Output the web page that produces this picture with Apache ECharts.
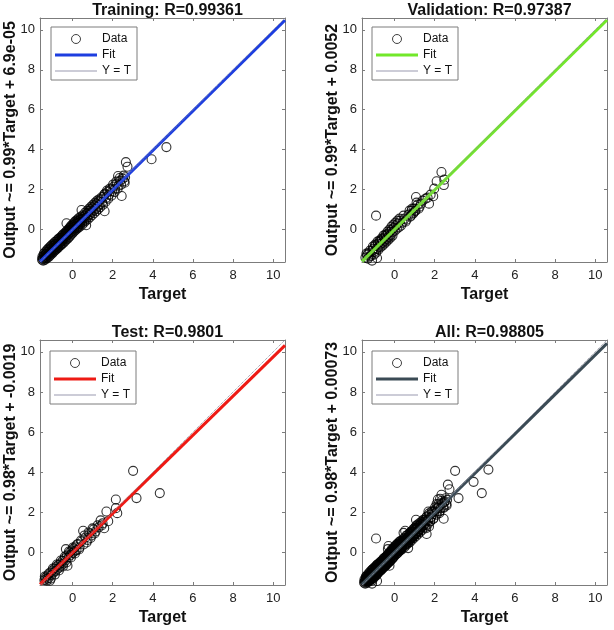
<!DOCTYPE html>
<html>
<head>
<meta charset="utf-8">
<script src="https://cdn.jsdelivr.net/npm/echarts@6/dist/echarts.min.js"></script>
<style>html,body{margin:0;padding:0;background:#fff}#c{width:614px;height:630px}</style>
</head>
<body>
<div id="c"></div>
<script>
// ---- data ----
const panelTitles = ['Training: R=0.99361', 'Validation: R=0.97387', 'Test: R=0.9801', 'All: R=0.98805'];
const yAxisNames = ['Output ~= 0.99*Target + 6.9e-05', 'Output ~= 0.99*Target + 0.0052', 'Output ~= 0.98*Target + -0.0019', 'Output ~= 0.98*Target + 0.00073'];
const xAxisName = 'Target';
const tickValues = [0, 2, 4, 6, 8, 10];
const axisMin = -1.62;
const axisMax = 10.59;

// [target, output]
const trainData = [[-1.52,-1.50],[-1.48,-1.41],[-1.45,-1.47],[-1.42,-1.30],[-1.40,-1.38],[-1.37,-1.44],[-1.35,-1.25],[-1.33,-1.36],[-1.30,-1.20],[-1.28,-1.31],[-1.25,-1.12],[-1.22,-1.27],[-1.20,-1.05],[-1.18,-1.18],[-1.15,-1.22],[-1.12,-0.98],[-1.10,-1.10],[-1.07,-1.15],[-1.05,-0.92],[-1.02,-1.03],[-1.00,-0.85],[-0.97,-1.05],[-0.95,-0.95],[-0.92,-0.80],[-0.90,-0.90],[-0.87,-0.98],[-0.85,-0.72],[-0.82,-0.85],[-0.80,-0.70],[-0.77,-0.80],[-0.75,-0.88],[-0.72,-0.62],[-0.70,-0.73],[-0.67,-0.55],[-0.65,-0.68],[-0.62,-0.75],[-0.60,-0.52],[-0.57,-0.60],[-0.55,-0.42],[-0.52,-0.56],[-0.50,-0.48],[-0.47,-0.35],[-0.45,-0.52],[-0.42,-0.40],[-0.40,-0.30],[-0.37,-0.44],[-0.35,-0.22],[-0.32,-0.33],[-0.30,0.32],[-0.28,-0.15],[-0.25,-0.30],[-0.22,-0.10],[-0.20,-0.22],[-0.17,-0.02],[-0.15,-0.18],[-0.12,-0.05],[-0.10,0.08],[-0.07,-0.12],[-0.05,0.02],[-0.02,0.15],[0.00,-0.05],[0.03,0.10],[0.05,0.22],[0.08,0.02],[0.10,0.15],[0.13,0.28],[0.15,0.08],[0.18,0.20],[0.20,0.35],[0.23,0.12],[0.25,0.30],[0.28,0.42],[0.30,0.20],[0.33,0.35],[0.35,0.48],[0.38,0.28],[0.40,0.40],[0.45,0.98],[0.43,0.55],[0.47,0.36],[0.50,0.50],[0.55,0.62],[0.58,0.45],[0.62,0.70],[0.65,0.58],[0.68,0.22],[0.70,0.80],[0.72,0.60],[0.78,0.85],[0.80,0.72],[0.85,0.95],[0.88,0.78],[0.92,1.02],[0.95,0.88],[1.00,1.10],[1.05,0.95],[1.10,1.20],[1.15,1.05],[1.20,1.30],[1.25,1.15],[1.30,1.40],[1.35,1.25],[1.42,1.52],[1.48,1.38],[1.55,1.65],[1.60,0.92],[1.62,1.80],[1.68,1.60],[1.75,1.88],[1.82,1.75],[1.90,2.00],[1.98,1.92],[2.05,2.15],[2.12,2.05],[2.20,2.30],[2.27,2.68],[2.30,2.20],[2.38,2.45],[2.45,1.68],[2.50,2.55],[2.58,2.42],[2.62,2.62],[2.66,3.38],[2.74,3.15],[3.94,3.52],[4.68,4.13],[10.55,10.60],
  [-1.50,-1.35],[-1.46,-1.55],[-1.43,-1.20],[-1.38,-1.52],[-1.34,-1.10],[-1.31,-1.45],[-1.27,-1.02],[-1.24,-1.40],[-1.21,-0.95],[-1.17,-1.35],[-1.14,-0.88],[-1.11,-1.28],[-1.08,-0.82],[-1.04,-1.22],[-1.01,-0.75],[-0.98,-1.15],[-0.94,-0.70],[-0.91,-1.08],[-0.88,-0.62],[-0.84,-1.02],[-0.81,-0.58],[-0.78,-0.95],[-0.74,-0.50],[-0.71,-0.90],[-0.68,-0.45],[-0.64,-0.82],[-0.61,-0.40],[-0.58,-0.78],[-0.54,-0.32],[-0.51,-0.70],[-0.48,-0.25],[-0.44,-0.65],[-0.41,-0.20],[-0.38,-0.58],[-0.34,-0.12],[-0.31,-0.50],[-0.27,-0.05],[-0.24,-0.45],[-0.21,0.02],[-0.18,-0.38],[-0.14,0.10],[-0.11,-0.30],[-0.08,0.18],[-0.04,-0.22],[-0.01,0.25],[0.02,-0.15],[0.06,0.32],[0.09,-0.08],[0.12,0.40],[0.16,-0.02],[0.19,0.45],[0.22,0.05],[0.26,0.52],[0.29,0.10],[0.32,0.58],[0.36,0.15],[0.42,0.65],[0.48,0.25],[0.52,0.72],[0.57,0.35],[0.63,0.85],[0.67,0.45],[0.74,0.95],[0.77,0.52],[0.83,1.05],[0.87,0.62],[0.93,1.15],[0.97,0.72],[1.03,1.25],[1.08,0.82],[1.13,1.35],[1.18,0.92],[1.23,1.45],[1.28,1.02],[1.33,1.52],[1.38,1.12],[1.45,1.62],[1.52,1.25],[1.58,1.75],[1.65,1.40],[1.72,1.95],[1.78,1.55],[1.86,2.05],[1.94,1.70],[2.02,2.25],[2.10,1.88],[2.18,2.40],[2.25,2.05],[2.35,2.58],[2.42,2.25],[2.55,2.70],[2.60,2.35]];
const valData = [[-1.45,-1.40],[-1.35,-1.25],[-1.30,-1.17],[-1.25,-1.35],[-1.12,-1.55],[-1.10,-1.05],[-1.05,-0.95],[-1.00,-1.10],[-0.92,0.70],[-0.95,-0.80],[-0.87,-1.42],[-0.88,-0.95],[-0.82,-0.70],[-0.78,-0.85],[-0.72,-0.60],[-0.68,-0.72],[-0.62,-0.50],[-0.58,-0.65],[-0.52,-0.40],[-0.48,-0.55],[-0.42,-0.30],[-0.38,-0.45],[-0.32,-0.20],[-0.28,-0.35],[-0.22,-0.10],[-0.18,-0.25],[-0.12,0.02],[-0.08,-0.12],[-0.02,0.10],[0.02,-0.05],[0.08,0.22],[0.12,0.05],[0.18,0.30],[0.22,0.12],[0.28,0.45],[0.32,0.20],[0.40,0.35],[0.50,0.55],[0.60,0.50],[0.70,0.75],[0.78,0.65],[0.85,0.95],[0.92,0.80],[0.98,1.05],[1.02,0.93],[1.07,1.63],[1.05,0.95],[1.15,1.25],[1.25,1.15],[1.40,1.45],[1.55,1.55],[1.65,1.60],[1.72,1.30],[1.80,1.75],[1.93,1.67],[1.98,2.05],[2.10,2.42],[2.34,2.88],[2.46,2.23],[2.48,2.50],
  [-1.40,-1.20],[-1.32,-1.45],[-1.22,-1.05],[-1.18,-1.30],[-1.08,-0.85],[-1.02,-1.25],[-0.97,-0.75],[-0.92,-1.15],[-0.85,-0.60],[-0.80,-1.00],[-0.75,-0.55],[-0.70,-0.88],[-0.65,-0.45],[-0.60,-0.80],[-0.55,-0.30],[-0.50,-0.70],[-0.45,-0.25],[-0.40,-0.60],[-0.35,-0.10],[-0.30,-0.50],[-0.25,0.00],[-0.20,-0.40],[-0.15,0.15],[-0.10,-0.30],[-0.05,0.25],[0.05,0.35],[0.15,0.45],[0.25,0.55],[0.45,0.70],[0.55,0.40],[0.75,0.95],[0.82,0.70],[0.88,1.05],[0.95,0.85],[1.10,1.35],[1.20,1.05],[1.32,1.30]];
const testData = [[-1.40,-1.38],[-1.35,-1.25],[-1.30,-1.32],[-1.25,-1.15],[-1.20,-1.28],[-1.13,-1.41],[-1.10,-1.00],[-1.05,-1.12],[-1.00,-0.90],[-0.95,-1.00],[-0.90,-0.80],[-0.85,-0.92],[-0.80,-0.70],[-0.75,-0.82],[-0.70,-0.62],[-0.65,-0.75],[-0.60,-0.55],[-0.55,-0.65],[-0.50,-0.42],[-0.45,-0.55],[-0.40,-0.30],[-0.33,0.17],[-0.35,-0.40],[-0.25,-0.66],[-0.28,-0.15],[-0.20,-0.25],[-0.15,0.00],[-0.10,-0.12],[-0.05,0.10],[0.00,-0.02],[0.05,0.20],[0.10,0.05],[0.15,0.30],[0.20,0.12],[0.28,0.42],[0.35,0.25],[0.45,0.55],[0.53,1.08],[0.55,0.40],[0.65,0.75],[0.75,0.62],[0.85,0.95],[0.95,0.85],[1.05,1.15],[1.15,1.05],[1.25,1.35],[1.40,1.60],[1.50,1.45],[1.58,1.21],[1.69,2.04],[1.78,1.56],[2.16,2.21],[2.16,2.64],[2.23,1.96],[3.02,4.07],[3.19,2.71],[4.35,2.96],
  [-1.38,-1.20],[-1.28,-1.40],[-1.18,-1.05],[-1.08,-1.30],[-0.98,-0.80],[-0.88,-1.10],[-0.78,-0.60],[-0.68,-0.90],[-0.58,-0.40],[-0.48,-0.70],[-0.38,-0.20],[-0.30,-0.50],[-0.18,0.05],[-0.08,-0.25],[0.02,0.25],[0.12,-0.05],[0.22,0.40],[0.32,0.15],[0.42,0.60],[0.60,0.85],[0.70,0.50],[0.80,1.00],[0.90,0.72],[1.00,1.20],[1.10,0.95],[1.30,1.25],[1.45,1.35]];
const allData = trainData.concat(valData, testData);

// fit line end points
const fitTrain = [[-1.62,-1.60],[10.59,10.48]];
const fitVal   = [[-1.62,-1.60],[10.59,10.49]];
const fitTest  = [[-1.62,-1.59],[10.59,10.32]];
const fitAll   = [[-1.62,-1.59],[10.59,10.42]];
const identityLine = [[-1.62,-1.62],[10.59,10.59]];

const legendNames = ['Data', 'Fit', 'Y = T'];

// ---- styling / layout ----
const FONT = '"Liberation Sans", Arial, Helvetica, sans-serif';
const fitColors = ['#1d3ee0', '#72e82a', '#ee1a14', '#3b4b55'];
const panelData = [trainData, valData, testData, allData];
const panelFits = [fitTrain, fitVal, fitTest, fitAll];
const grids = [
  {left: 40, top: 18, width: 245, height: 244},
  {left: 362, top: 18, width: 245, height: 244},
  {left: 40, top: 340, width: 245, height: 245},
  {left: 362, top: 340, width: 245, height: 245}
];
const legendPos = [{left: 51, top: 27}, {left: 372, top: 27}, {left: 50, top: 351}, {left: 372, top: 351}];
const AXC = '#7c7c7c';
const ICON_THICK = 'path://M0,0L42,0L42,3L0,3Z';
const ICON_THIN = 'path://M0,0L42,0L42,1L0,1Z';

const option = {
  backgroundColor: '#fff',
  animation: false,
  textStyle: {fontFamily: FONT},
  title: [], grid: [], xAxis: [], yAxis: [], legend: [], series: []
};

grids.forEach((g, i) => {
  option.grid.push(Object.assign({containLabel: false}, g));
  option.title.push({
    text: panelTitles[i], left: g.left + g.width / 2, top: g.top - 20, textAlign: 'center',
    textStyle: {fontFamily: FONT, fontSize: 16, fontWeight: 'bold', color: '#111'}
  });
  const tickCfg = {show: true, inside: true, length: 3, customValues: tickValues, lineStyle: {color: AXC}};
  const lineCfg = {show: true, onZero: false, lineStyle: {color: AXC, width: 1}};
  option.xAxis.push({
    type: 'value', gridIndex: i, position: 'bottom', min: axisMin, max: axisMax,
    axisLine: lineCfg, axisTick: tickCfg, splitLine: {show: false},
    axisLabel: {customValues: tickValues, color: '#222', fontSize: 13, fontFamily: FONT, margin: 7},
    name: xAxisName, nameLocation: 'middle', nameGap: 25, nameMoveOverlap: false,
    nameTextStyle: {fontFamily: FONT, fontSize: 16, fontWeight: 'bold', color: '#111'}
  });
  option.xAxis.push({
    type: 'value', gridIndex: i, position: 'top', min: axisMin, max: axisMax,
    axisLine: lineCfg, axisTick: tickCfg, splitLine: {show: false}, axisLabel: {show: false}
  });
  option.yAxis.push({
    type: 'value', gridIndex: i, position: 'left', min: axisMin, max: axisMax,
    axisLine: lineCfg, axisTick: tickCfg, splitLine: {show: false},
    axisLabel: {customValues: tickValues, color: '#222', fontSize: 13, fontFamily: FONT, margin: 5},
    name: yAxisNames[i], nameLocation: 'middle', nameGap: 21, nameMoveOverlap: false,
    nameTextStyle: {fontFamily: FONT, fontSize: 16, fontWeight: 'bold', color: '#111'}
  });
  option.yAxis.push({
    type: 'value', gridIndex: i, position: 'right', min: axisMin, max: axisMax,
    axisLine: lineCfg, axisTick: tickCfg, splitLine: {show: false}, axisLabel: {show: false}
  });
  const xi = i * 2, yi = i * 2;
  const sfx = '|' + i;
  option.series.push({
    name: legendNames[0] + sfx, type: 'scatter', xAxisIndex: xi, yAxisIndex: yi,
    data: panelData[i], symbol: 'circle', symbolSize: 9,
    itemStyle: {color: 'rgba(0,0,0,0)', borderColor: '#000', borderWidth: 1.1}, z: 2
  });
  option.series.push({
    name: legendNames[1] + sfx, type: 'line', xAxisIndex: xi, yAxisIndex: yi,
    data: panelFits[i], symbol: 'none', lineStyle: {color: fitColors[i], width: 3},
    itemStyle: {color: fitColors[i]}, z: 3
  });
  option.series.push({
    name: legendNames[2] + sfx, type: 'line', xAxisIndex: xi, yAxisIndex: yi,
    data: identityLine, symbol: 'none', lineStyle: {color: '#8a8a9a', width: 1, type: 'dotted'},
    itemStyle: {color: '#8a8a9a'}, z: 4
  });
  option.legend.push({
    left: legendPos[i].left, top: legendPos[i].top, orient: 'vertical', align: 'left',
    padding: [6, 6, 3, 4], itemGap: 4, itemWidth: 42, itemHeight: 9,
    backgroundColor: '#fff', borderColor: '#7c7c7c', borderWidth: 1, borderRadius: 0,
    selectedMode: false,
    textStyle: {fontFamily: FONT, fontSize: 12, color: '#111'},
    formatter: n => n.split('|')[0],
    data: [
      {name: legendNames[0] + sfx, icon: 'circle', itemStyle: {color: 'rgba(0,0,0,0)', borderColor: '#111', borderWidth: 1}},
      {name: legendNames[1] + sfx, icon: ICON_THICK, itemStyle: {color: fitColors[i], borderWidth: 0}},
      {name: legendNames[2] + sfx, icon: ICON_THIN, itemStyle: {color: '#9a9ab0', borderWidth: 0}}
    ]
  });
});

const chart = echarts.init(document.getElementById('c'), null, {renderer: 'canvas'});
chart.setOption(option);
</script>
</body>
</html>
